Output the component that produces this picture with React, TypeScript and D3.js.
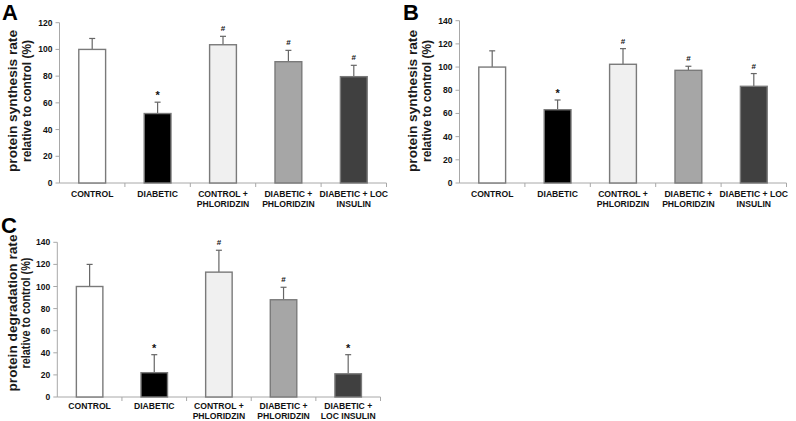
import React from "react";
import * as d3 from "d3";

const categoriesAB = ["CONTROL", "DIABETIC", "CONTROL +\nPHLORIDZIN", "DIABETIC +\nPHLORIDZIN", "DIABETIC + LOC\nINSULIN"];
const categoriesC = ["CONTROL", "DIABETIC", "CONTROL +\nPHLORIDZIN", "DIABETIC +\nPHLORIDZIN", "DIABETIC +\nLOC INSULIN"];

const valuesA = [100, 52, 103.5, 90.8, 79.6];
const errorsA = [8.2, 8.5, 6.3, 8.5, 8.5];
const marksA = ["", "*", "#", "#", "#"];

const valuesB = [100, 63.2, 102.4, 97.2, 83.4];
const errorsB = [14, 8.4, 13.5, 3.5, 11];
const marksB = ["", "*", "#", "#", "#"];

const valuesC = [100, 22, 113, 88, 21];
const errorsC = [20, 16.3, 19.8, 11.3, 17.3];
const marksC = ["", "*", "#", "#", "*"];

const ticksA = [0, 20, 40, 60, 80, 100, 120];
const ticksBC = [0, 20, 40, 60, 80, 100, 120, 140];

const fills = ["#ffffff", "#000000", "#f0f0f0", "#a6a6a6", "#404040"];

const FONT = "'Liberation Sans', Arial, sans-serif";

type PanelProps = {
  letter: string;
  letterX: number;
  letterY: number;
  categories: string[];
  values: number[];
  errors: number[];
  marks: string[];
  ticks: number[];
  yMax: number;
  x0: number;
  x1: number;
  yTop: number;
  yBottom: number;
  titleLines: string[];
  titleLengths: number[];
  titleXs: number[];
  titleY: number;
  labelBase: number;
};

function Panel(p: PanelProps) {
  const x = d3.scaleBand<string>().domain(p.categories).range([p.x0, p.x1]).paddingInner(0.59).paddingOuter(0.295);
  const y = d3.scaleLinear().domain([0, p.yMax]).range([p.yBottom, p.yTop]);
  const step = x.step();
  const bw = x.bandwidth();
  return (
    <g>
      <text x={p.letterX} y={p.letterY} fontFamily={FONT} fontWeight="bold" fontSize={22} fill="#000">{p.letter}</text>
      {p.titleLines.map((t, i) => (
        <text key={i} transform={`translate(${p.titleXs[i]},${p.titleY}) rotate(-90)`} textAnchor="middle"
          textLength={p.titleLengths[i]} lengthAdjust="spacingAndGlyphs"
          fontFamily={FONT} fontWeight="bold" fontSize={13.5} fill="#1a1a1a">{t}</text>
      ))}
      {/* y axis */}
      <line x1={p.x0} x2={p.x0} y1={p.yTop} y2={p.yBottom} stroke="#a8a8a8" strokeWidth={1} />
      {p.ticks.map((t) => (
        <g key={t}>
          <line x1={p.x0 - 4} x2={p.x0} y1={y(t)} y2={y(t)} stroke="#a8a8a8" strokeWidth={1} />
          <text x={p.x0 - 7} y={y(t) + 3} textAnchor="end" fontFamily={FONT} fontWeight="bold" fontSize={8.5} fill="#111">{t}</text>
        </g>
      ))}
      {/* x axis */}
      <line x1={p.x0} x2={p.x1} y1={p.yBottom} y2={p.yBottom} stroke="#a8a8a8" strokeWidth={1} />
      {p.categories.map((c, i) => (
        <line key={"t" + i} x1={p.x0 + step * (i + 1)} x2={p.x0 + step * (i + 1)} y1={p.yBottom} y2={p.yBottom + 4} stroke="#a8a8a8" strokeWidth={1} />
      ))}
      {p.categories.map((c, i) => {
        const bx = x(c)!;
        const cx = bx + bw / 2;
        const top = y(p.values[i]);
        const etop = y(p.values[i] + p.errors[i]);
        return (
          <g key={c}>
            <line x1={cx} x2={cx} y1={top} y2={etop} stroke="#666" strokeWidth={1.2} />
            <line x1={cx - 3} x2={cx + 3} y1={etop} y2={etop} stroke="#666" strokeWidth={1.2} />
            <rect x={bx} y={top} width={bw} height={p.yBottom - top} fill={fills[i]} stroke="#7a7a7a" strokeWidth={1.4} />
            {p.marks[i] && (
              <text x={cx} y={etop - (p.marks[i] === "*" ? 3 : 5)} textAnchor="middle" fontFamily={FONT} fontWeight="bold" fontSize={p.marks[i] === "*" ? 11 : 8} fill="#111">{p.marks[i]}</text>
            )}
            {c.split("\n").map((l, j) => (
              <text key={j} x={cx} y={p.labelBase + j * 10} textAnchor="middle" fontFamily={FONT} fontWeight="bold" fontSize={8.6} fill="#111">{l}</text>
            ))}
          </g>
        );
      })}
    </g>
  );
}

export default function App() {
  return (
    <svg width={796} height={421} style={{ position: "absolute", left: 0, top: 0, background: "#fff" }}>
      <rect width={796} height={421} fill="#fff" />
      <Panel letter="A" letterX={2} letterY={20} categories={categoriesAB} values={valuesA} errors={errorsA} marks={marksA}
        ticks={ticksA} yMax={120} x0={59.5} x1={386.5} yTop={22.7} yBottom={183}
        titleLines={["protein synthesis rate", "relative to control (%)"]} titleLengths={[142, 122]} titleXs={[16.7, 31]} titleY={101}
        labelBase={196.5} />
      <Panel letter="B" letterX={403} letterY={20} categories={categoriesAB} values={valuesB} errors={errorsB} marks={marksB}
        ticks={ticksBC} yMax={140} x0={459.5} x1={786.5} yTop={20.7} yBottom={183}
        titleLines={["protein synthesis rate", "relative to control (%)"]} titleLengths={[142, 122]} titleXs={[416.7, 431]} titleY={101}
        labelBase={196.5} />
      <Panel letter="C" letterX={1} letterY={233} categories={categoriesC} values={valuesC} errors={errorsC} marks={marksC}
        ticks={ticksBC} yMax={140} x0={57.3} x1={380.5} yTop={242.3} yBottom={397}
        titleLines={["protein degradation rate", "relative to control (%)"]} titleLengths={[157, 111]} titleXs={[16.5, 30]} titleY={313}
        labelBase={409.3} />
    </svg>
  );
}
